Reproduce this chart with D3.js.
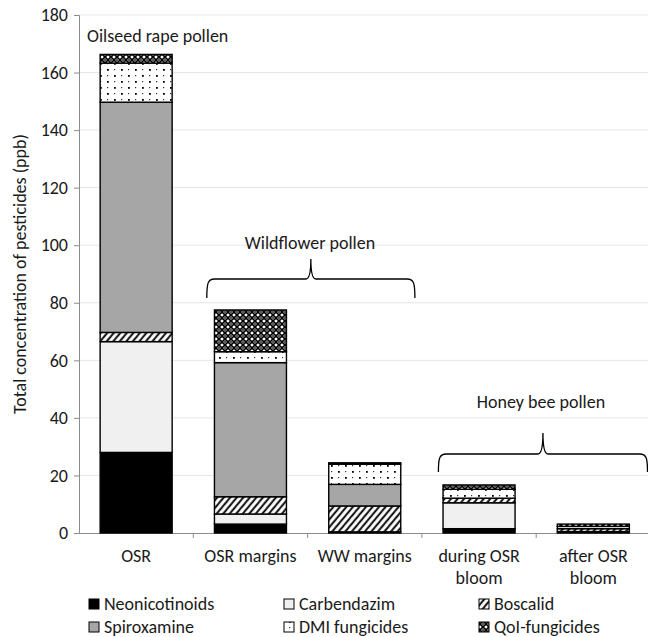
<!DOCTYPE html>
<html><head><meta charset="utf-8">
<script src="https://cdn.jsdelivr.net/npm/d3@7"></script>
<style>
html,body{margin:0;padding:0;background:#fff;}
svg text{font-family:Carlito,Calibri,Lato,sans-serif;fill:#1a1a1a;}
</style></head>
<body>
<svg id="chart" width="648" height="637"></svg>
<script>
const categories = ["OSR","OSR margins","WW margins","during OSR bloom","after OSR bloom"];
const categoryLines = [["OSR"],["OSR margins"],["WW margins"],["during OSR","bloom"],["after OSR","bloom"]];
const seriesNames = ["Neonicotinoids","Carbendazim","Boscalid","Spiroxamine","DMI fungicides","QoI-fungicides"];
const neonicotinoids = [28.0, 3.1, 0.4, 1.5, 0.5];
const carbendazim    = [38.5, 3.5, 0.0, 9.0, 0.0];
const boscalid       = [3.2, 6.0, 9.0, 1.6, 1.0];
const spiroxamine    = [80.0, 46.6, 7.5, 0.0, 0.0];
const dmiFungicides  = [13.6, 3.8, 7.0, 3.1, 0.8];
const qoiFungicides  = [3.0, 14.5, 0.5, 1.5, 0.8];
const yTicks = [0,20,40,60,80,100,120,140,160,180];
const yTitle = "Total concentration of pesticides (ppb)";
const groupLabels = ["Oilseed rape pollen","Wildflower pollen","Honey bee pollen"];

const seriesValues = [neonicotinoids, carbendazim, boscalid, spiroxamine, dmiFungicides, qoiFungicides];
const fills = ["#000","#f0f0f0","url(#pBos)","#a6a6a6","url(#pDmi)","url(#pQoi)"];

const svg = d3.select("#chart");
const FS = 18;
const defs = svg.append("defs");
// Boscalid hatch
const pB = defs.append("pattern").attr("id","pBos").attr("patternUnits","userSpaceOnUse")
  .attr("width",5).attr("height",5).attr("patternTransform","rotate(40)");
pB.append("rect").attr("width",5).attr("height",5).attr("fill","#fff");
pB.append("line").attr("x1",1.2).attr("x2",1.2).attr("y1",0).attr("y2",5).attr("stroke","#000").attr("stroke-width",1.9);
// DMI dots
const pD = defs.append("pattern").attr("id","pDmi").attr("patternUnits","userSpaceOnUse")
  .attr("width",14).attr("height",12);
pD.append("rect").attr("width",14).attr("height",12).attr("fill","#fff");
[[2,3],[9,9]].forEach(([a,b])=>pD.append("rect").attr("x",a).attr("y",b).attr("width",1.8).attr("height",1.8).attr("fill","#000"));
[[9,3],[2,9]].forEach(([a,b])=>pD.append("rect").attr("x",a).attr("y",b).attr("width",1.2).attr("height",1.2).attr("fill","#333"));
// QoI pattern
const pQ = defs.append("pattern").attr("id","pQoi").attr("patternUnits","userSpaceOnUse")
  .attr("width",6).attr("height",6);
pQ.append("rect").attr("width",6).attr("height",6).attr("fill","#fff");
pQ.append("path").attr("d","M0,0L6,6M6,0L0,6").attr("stroke","#000").attr("stroke-width",1.6);
pQ.append("rect").attr("x",2.2).attr("y",-0.8).attr("width",1.6).attr("height",1.6).attr("fill","#000");
pQ.append("rect").attr("x",2.2).attr("y",5.2).attr("width",1.6).attr("height",1.6).attr("fill","#000");

const x = d3.scaleBand().domain(categories).range([79, 650.5]).paddingInner(0.37).paddingOuter(0.185);
const y = d3.scaleLinear().domain([0,180]).range([533, 15]);

// gridlines
svg.append("g").selectAll("line").data(yTicks.filter(d=>d>0)).join("line")
  .attr("x1",79).attr("x2",648).attr("y1",d=>y(d)).attr("y2",d=>y(d))
  .attr("stroke","#e6e6e6").attr("stroke-width",1);

// y axis
const yAxis = svg.append("g").attr("transform","translate(79,0)")
  .call(d3.axisLeft(y).tickValues(yTicks).tickSize(5).tickPadding(6));
yAxis.select(".domain").attr("stroke","#8c8c8c");
yAxis.selectAll(".tick line").attr("stroke","#8c8c8c");
yAxis.selectAll(".tick text").attr("font-size",FS).attr("font-family",null).style("fill","#1a1a1a");

// x axis
const bounds = categories.map(c => x(c) - x.step()*x.paddingInner()/2).concat([650.5]);
svg.append("line").attr("x1",79).attr("x2",648).attr("y1",533.5).attr("y2",533.5).attr("stroke","#8c8c8c");
svg.append("g").selectAll("line").data(bounds.slice(1,5)).join("line")
  .attr("x1",d=>d).attr("x2",d=>d).attr("y1",533).attr("y2",538).attr("stroke","#8c8c8c");

const xl = svg.append("g").selectAll("text").data(categories).join("text")
  .attr("x",d=>x(d)+x.bandwidth()/2).attr("y",562).attr("text-anchor","middle").attr("font-size",FS);
xl.each(function(d,i){
  const t = d3.select(this);
  categoryLines[i].forEach((ln,j)=>t.append("tspan").attr("x",x(d)+x.bandwidth()/2).attr("dy", j===0?0:22).text(ln));
});

// stacks
const rows = categories.map((c,i)=>{const o={cat:c}; seriesNames.forEach((s,k)=>o[s]=seriesValues[k][i]); return o;});
const stack = d3.stack().keys(seriesNames)(rows);
stack.forEach((layer,k)=>{
  svg.append("g").selectAll("rect").data(layer.filter(d=>d[1]-d[0]>0)).join("rect")
    .attr("x",d=>x(d.data.cat)).attr("width",x.bandwidth())
    .attr("y",d=>y(d[1])).attr("height",d=>y(d[0])-y(d[1]))
    .attr("fill",fills[k]).attr("stroke","#000").attr("stroke-width",1.4);
});

// y title
svg.append("text").attr("transform","translate(26,274) rotate(-90)").attr("text-anchor","middle")
  .attr("font-size",FS).text(yTitle);

// group annotations
svg.append("text").attr("x",87).attr("y",42).attr("font-size",FS).text(groupLabels[0]);
svg.append("text").attr("x",310).attr("y",249).attr("text-anchor","middle").attr("font-size",FS).text(groupLabels[1]);
svg.append("text").attr("x",541).attr("y",408).attr("text-anchor","middle").attr("font-size",FS).text(groupLabels[2]);

function brace(x0,x1,yh,yp,ye){
  const xc=(x0+x1)/2, r=8, r2=5;
  return `M${x0},${ye} C${x0},${yh+4} ${x0+1},${yh} ${x0+r},${yh} L${xc-r2},${yh} Q${xc},${yh} ${xc},${yp} Q${xc},${yh} ${xc+r2},${yh} L${x1-r},${yh} C${x1-1},${yh} ${x1},${yh+4} ${x1},${ye}`;
}
svg.append("path").attr("d",brace(bounds[1]+13.5,bounds[3]-7,279,259,298)).attr("fill","none").attr("stroke","#000").attr("stroke-width",1.3);
svg.append("path").attr("d",brace(bounds[3]+16.5,bounds[5]-3,454,433,472)).attr("fill","none").attr("stroke","#000").attr("stroke-width",1.3);

// legend
const legCols=[89,284,479], legRows=[610,633];
seriesNames.forEach((s,k)=>{
  const cx=legCols[k%3], cy=legRows[Math.floor(k/3)];
  svg.append("rect").attr("x",cx).attr("y",cy-11).attr("width",10).attr("height",10)
    .attr("fill",fills[k]).attr("stroke","#000").attr("stroke-width",1);
  svg.append("text").attr("x",cx+15).attr("y",cy).attr("font-size",FS).text(s);
});
</script>
</body></html>
